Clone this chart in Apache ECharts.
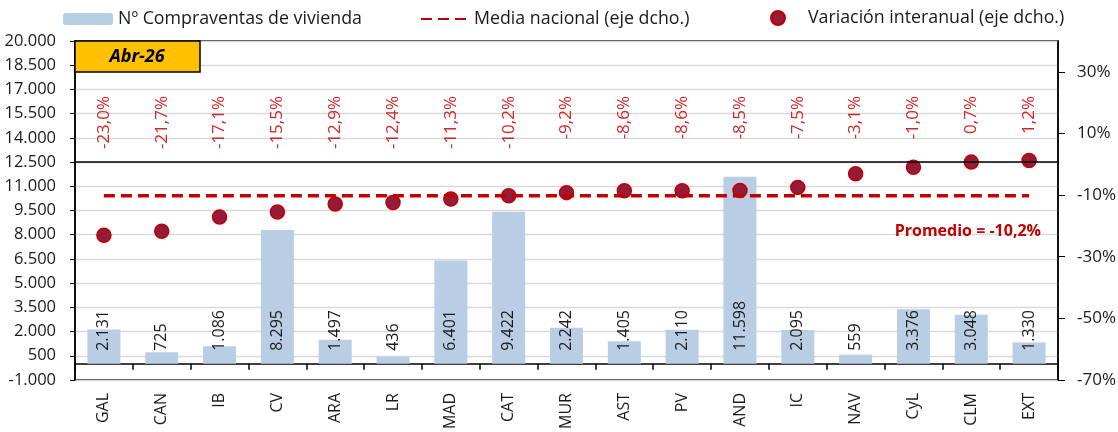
<!DOCTYPE html>
<html><head><meta charset="utf-8">
<script src="https://cdn.jsdelivr.net/npm/echarts@6/dist/echarts.min.js"></script>
<style>html,body{margin:0;padding:0;background:#fff}#c{width:1118px;height:432px}</style>
</head><body><div id="c"></div>
<script>
const categories = ['GAL','CAN','IB','CV','ARA','LR','MAD','CAT','MUR','AST','PV','AND','IC','NAV','CyL','CLM','EXT'];
const compraventas = [2131,725,1086,8295,1497,436,6401,9422,2242,1405,2110,11598,2095,559,3376,3048,1330];
const variacion = [-23.0,-21.7,-17.1,-15.5,-12.9,-12.4,-11.3,-10.2,-9.2,-8.6,-8.6,-8.5,-7.5,-3.1,-1.0,0.7,1.2];
const mediaNacional = [-10.2,-10.2,-10.2,-10.2,-10.2,-10.2,-10.2,-10.2,-10.2,-10.2,-10.2,-10.2,-10.2,-10.2,-10.2,-10.2,-10.2];
const leftTicks = [-1000,500,2000,3500,5000,6500,8000,9500,11000,12500,14000,15500,17000,18500,20000];
const rightTicks = [-70,-50,-30,-10,10,30];
const separadorValor = 12500;
const periodo = 'Abr-26';
const promedio = -10.2;

const FONT = 'Open Sans';
const fmtNum = v => (v < 0 ? '-' : '') + Math.abs(v).toString().replace(/\B(?=(\d{3})+(?!\d))/g, '.');
const fmtPct = v => v.toFixed(1).replace('.', ',') + '%';

const chart = echarts.init(document.getElementById('c'), null, {renderer: 'canvas'});
const legendText = {fontFamily: FONT, fontSize: 17.8, color: '#1a1a1a'};
chart.setOption({
  backgroundColor: '#fff',
  animation: false,
  textStyle: {fontFamily: FONT},
  grid: {left: 75, right: 60, top: 41, bottom: 52, show: true, borderColor: '#000', borderWidth: 1.5,
         backgroundColor: 'transparent', outerBoundsMode: 'none', containLabel: false},
  legend: [
    {left: 63, top: 10, padding: 0, itemWidth: 50, itemHeight: 12, textStyle: legendText, data: ['Nº Compraventas de vivienda']},
    {left: 420, top: 10, padding: 0, itemWidth: 48, itemHeight: 12, itemStyle: {opacity: 0}, textStyle: legendText, data: ['Media nacional (eje dcho.)']},
    {left: 770, top: 9, padding: 0, itemWidth: 50, itemHeight: 14, textStyle: legendText, data: ['Variación interanual (eje dcho.)']}
  ],
  xAxis: [
    {
      type: 'category', data: categories, position: 'bottom',
      axisLine: {onZero: true, onZeroAxisIndex: 0, lineStyle: {color: '#000', width: 1.5}},
      axisTick: {show: true, length: 6, lineStyle: {color: '#000', width: 1.5}},
      axisLabel: {rotate: 90, margin: 13, fontSize: 16, color: '#1a1a1a', fontFamily: FONT, interval: 0}
    },
    {
      type: 'category', data: variacion.map(fmtPct), position: 'top',
      axisLine: {show: false}, axisTick: {show: false},
      axisLabel: {inside: true, rotate: 90, margin: 55, fontSize: 17, color: '#D02828', fontFamily: FONT, interval: 0}
    }
  ],
  yAxis: [
    {
      type: 'value', min: -1000, max: 20000, position: 'left',
      axisLine: {show: true, lineStyle: {color: '#000', width: 1.5}},
      axisTick: {show: true, length: 5, customValues: leftTicks, lineStyle: {color: '#000'}},
      axisLabel: {customValues: leftTicks, formatter: fmtNum, margin: 19, fontSize: 16.5, color: '#1a1a1a', fontFamily: FONT},
      splitLine: {show: true, lineStyle: {color: '#D9D9D9', width: 1.3}}
    },
    {
      type: 'value', min: -70, max: 40, position: 'right',
      axisLine: {show: true, lineStyle: {color: '#000', width: 1.5}},
      axisTick: {show: true, length: 7, customValues: rightTicks, lineStyle: {color: '#000'}},
      axisLabel: {customValues: rightTicks, formatter: v => v + '%', margin: 19, fontSize: 17, color: '#1a1a1a', fontFamily: FONT},
      splitLine: {show: false}
    }
  ],
  series: [
    {
      name: 'Nº Compraventas de vivienda', type: 'bar', xAxisIndex: 0, yAxisIndex: 0,
      data: compraventas, barWidth: 33,
      itemStyle: {color: '#B9CDE5'},
      label: {show: true, position: 'insideBottom', distance: 13, rotate: 90, align: 'left', verticalAlign: 'middle',
              formatter: p => fmtNum(p.value), fontSize: 16, color: '#1a1a1a', fontFamily: FONT},
      markLine: {silent: true, symbol: 'none', label: {show: false},
                 lineStyle: {color: '#000', width: 1.5, type: 'solid'}, data: [{yAxis: separadorValor}]},
      z: 2
    },
    {
      name: 'Variación interanual (eje dcho.)', type: 'scatter', xAxisIndex: 0, yAxisIndex: 1,
      data: variacion, symbolSize: 14,
      itemStyle: {color: '#951B3B', borderColor: '#C00000', borderWidth: 1.5, opacity: 1},
      z: 3
    },
    {
      name: 'Media nacional (eje dcho.)', type: 'line', xAxisIndex: 0, yAxisIndex: 1,
      data: mediaNacional, symbol: 'none', showSymbol: false,
      lineStyle: {color: '#C00000', width: 3.5, type: [11, 6]},
      itemStyle: {color: '#C00000'},
      z: 4
    }
  ],
  graphic: [
    {type: 'rect', x: 75, y: 41, shape: {width: 125, height: 31},
     style: {fill: '#FFC000', stroke: '#000', lineWidth: 1.5}, z: 10},
    {type: 'text', x: 137, y: 57, z: 11,
     style: {text: periodo, align: 'center', verticalAlign: 'middle', fill: '#000',
             font: 'italic bold 18px "' + FONT + '"'}},
    {type: 'text', x: 1041, y: 231, z: 11,
     style: {text: 'Promedio = ' + fmtPct(promedio), align: 'right', verticalAlign: 'middle', fill: '#C00000',
             font: 'bold 16px "' + FONT + '"'}}
  ]
});
</script></body></html>
